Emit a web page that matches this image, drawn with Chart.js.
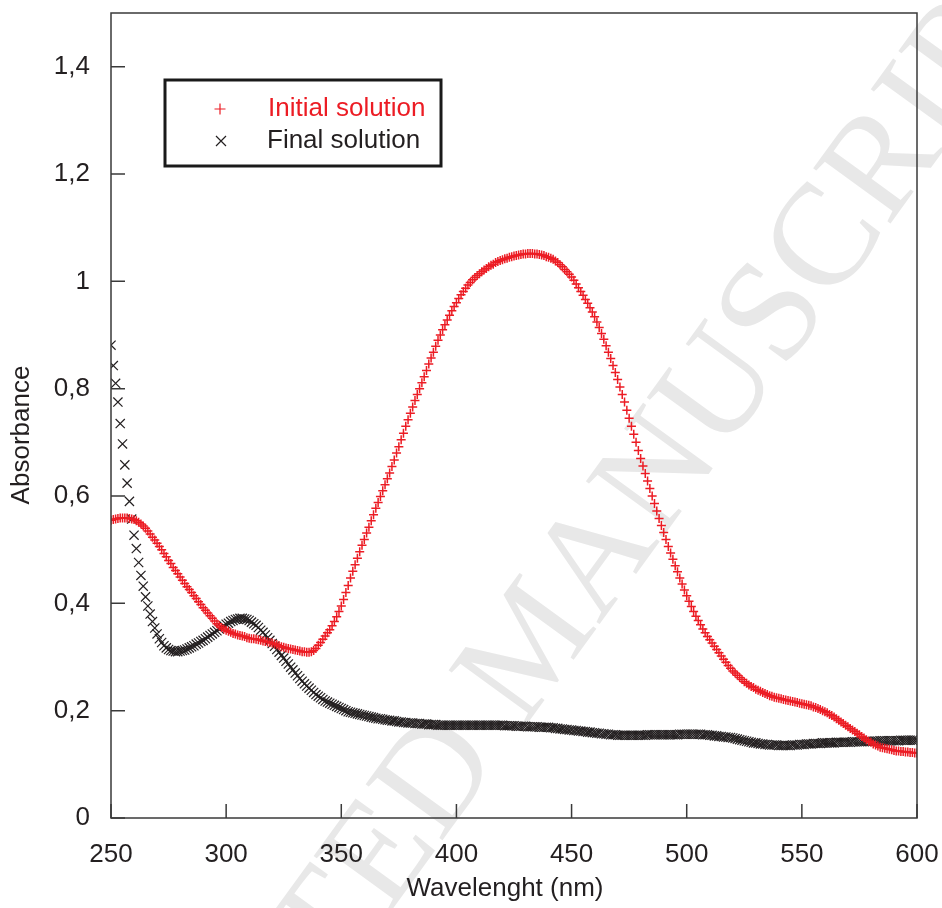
<!DOCTYPE html>
<html>
<head>
<meta charset="utf-8">
<script src="https://cdn.jsdelivr.net/npm/chart.js@4.4.1/dist/chart.umd.min.js"></script>
<style>
  body { margin: 0; background: #fff; }
  #wrap { width: 942px; height: 908px; }
</style>
</head>
<body>
<div id="wrap"><canvas id="spectra"></canvas></div>
<script>
// wavelength sampling, 1 nm from 250 to 600
const wlStart = 250, wlEnd = 600;
const wavelengths = [];
for (let w = wlStart; w <= wlEnd; w++) wavelengths.push(w);

// absorbance, one value per nm
const initialSolution = [
  0.555,0.556,0.557,0.558,0.559,0.559,0.559,0.559,0.558,0.557,
  0.556,0.554,0.551,0.548,0.544,0.540,0.535,0.529,0.523,0.518,
  0.512,0.506,0.500,0.493,0.487,0.480,0.474,0.467,0.461,0.455,
  0.449,0.443,0.437,0.431,0.426,0.420,0.414,0.409,0.403,0.398,
  0.392,0.387,0.382,0.377,0.372,0.367,0.362,0.358,0.355,0.352,
  0.350,0.348,0.346,0.344,0.343,0.341,0.340,0.339,0.338,0.336,
  0.335,0.334,0.334,0.333,0.332,0.331,0.330,0.329,0.328,0.327,
  0.326,0.324,0.323,0.321,0.319,0.318,0.317,0.316,0.315,0.314,
  0.313,0.312,0.311,0.310,0.310,0.309,0.309,0.310,0.312,0.316,
  0.322,0.327,0.333,0.339,0.345,0.351,0.358,0.366,0.375,0.385,
  0.395,0.407,0.420,0.433,0.447,0.460,0.472,0.484,0.496,0.508,
  0.519,0.531,0.542,0.554,0.565,0.577,0.588,0.599,0.610,0.621,
  0.632,0.643,0.655,0.667,0.680,0.692,0.705,0.717,0.730,0.742,
  0.754,0.766,0.778,0.789,0.800,0.811,0.822,0.834,0.846,0.857,
  0.868,0.879,0.890,0.900,0.910,0.919,0.928,0.937,0.945,0.953,
  0.960,0.968,0.975,0.981,0.987,0.993,0.998,1.003,1.007,1.011,
  1.014,1.018,1.021,1.024,1.027,1.030,1.032,1.035,1.037,1.039,
  1.040,1.042,1.043,1.045,1.046,1.047,1.048,1.049,1.050,1.051,
  1.051,1.052,1.052,1.052,1.051,1.051,1.050,1.049,1.048,1.046,
  1.045,1.043,1.041,1.038,1.035,1.031,1.027,1.022,1.018,1.013,
  1.008,1.002,0.995,0.988,0.981,0.974,0.966,0.959,0.951,0.943,
  0.934,0.924,0.914,0.903,0.892,0.880,0.868,0.856,0.843,0.830,
  0.817,0.803,0.789,0.775,0.760,0.745,0.730,0.715,0.700,0.685,
  0.670,0.656,0.642,0.628,0.614,0.600,0.586,0.572,0.558,0.545,
  0.532,0.519,0.506,0.494,0.482,0.470,0.459,0.447,0.436,0.425,
  0.414,0.404,0.394,0.385,0.376,0.368,0.360,0.352,0.345,0.338,
  0.332,0.326,0.320,0.314,0.308,0.302,0.296,0.290,0.284,0.279,
  0.274,0.270,0.266,0.262,0.258,0.254,0.251,0.248,0.245,0.243,
  0.240,0.238,0.236,0.234,0.232,0.230,0.228,0.227,0.225,0.224,
  0.223,0.222,0.221,0.220,0.219,0.218,0.217,0.216,0.215,0.214,
  0.213,0.212,0.211,0.210,0.209,0.207,0.206,0.204,0.202,0.200,
  0.198,0.196,0.193,0.191,0.188,0.185,0.182,0.179,0.176,0.173,
  0.170,0.167,0.164,0.161,0.158,0.155,0.152,0.149,0.146,0.143,
  0.141,0.138,0.136,0.134,0.132,0.131,0.130,0.129,0.128,0.127,
  0.126,0.125,0.125,0.124,0.124,0.123,0.123,0.122,0.122,0.121,
  0.121
];
const finalSolution = [
  0.881,0.843,0.810,0.775,0.735,0.697,0.658,0.624,0.590,0.557,
  0.527,0.502,0.476,0.452,0.432,0.412,0.395,0.380,0.366,0.354,
  0.343,0.334,0.327,0.321,0.317,0.314,0.312,0.311,0.310,0.310,
  0.311,0.312,0.313,0.315,0.317,0.319,0.321,0.324,0.326,0.329,
  0.331,0.334,0.337,0.340,0.343,0.346,0.349,0.352,0.355,0.358,
  0.361,0.363,0.366,0.368,0.370,0.371,0.372,0.372,0.371,0.370,
  0.368,0.365,0.362,0.359,0.355,0.350,0.346,0.341,0.336,0.331,
  0.325,0.320,0.314,0.309,0.303,0.298,0.292,0.287,0.281,0.276,
  0.270,0.265,0.260,0.255,0.250,0.246,0.242,0.238,0.234,0.230,
  0.227,0.224,0.221,0.218,0.216,0.214,0.212,0.210,0.208,0.206,
  0.204,0.202,0.200,0.198,0.197,0.196,0.195,0.194,0.193,0.192,
  0.191,0.190,0.189,0.188,0.187,0.186,0.185,0.185,0.184,0.183,
  0.182,0.182,0.181,0.181,0.180,0.179,0.179,0.178,0.178,0.177,
  0.177,0.177,0.176,0.176,0.176,0.175,0.175,0.175,0.174,0.174,
  0.174,0.174,0.173,0.173,0.173,0.173,0.173,0.173,0.173,0.173,
  0.173,0.173,0.173,0.173,0.173,0.173,0.173,0.173,0.173,0.173,
  0.173,0.173,0.173,0.173,0.173,0.173,0.173,0.173,0.173,0.173,
  0.173,0.172,0.172,0.172,0.172,0.172,0.171,0.171,0.171,0.171,
  0.171,0.170,0.170,0.170,0.170,0.170,0.169,0.169,0.169,0.169,
  0.169,0.168,0.168,0.167,0.167,0.166,0.166,0.165,0.165,0.164,
  0.164,0.163,0.163,0.162,0.162,0.161,0.161,0.160,0.160,0.159,
  0.159,0.158,0.158,0.157,0.157,0.156,0.156,0.155,0.155,0.155,
  0.154,0.154,0.154,0.154,0.154,0.154,0.154,0.154,0.154,0.154,
  0.154,0.154,0.154,0.155,0.155,0.155,0.155,0.155,0.155,0.155,
  0.155,0.155,0.155,0.155,0.155,0.155,0.155,0.156,0.156,0.156,
  0.156,0.156,0.156,0.156,0.156,0.156,0.156,0.155,0.155,0.155,
  0.154,0.154,0.153,0.153,0.152,0.152,0.151,0.151,0.150,0.150,
  0.149,0.148,0.147,0.146,0.145,0.144,0.143,0.142,0.141,0.140,
  0.140,0.139,0.138,0.138,0.137,0.137,0.136,0.136,0.136,0.136,
  0.135,0.135,0.135,0.135,0.135,0.135,0.136,0.136,0.136,0.137,
  0.137,0.137,0.138,0.138,0.138,0.139,0.139,0.139,0.139,0.140,
  0.140,0.140,0.140,0.140,0.140,0.141,0.141,0.141,0.141,0.141,
  0.141,0.141,0.142,0.142,0.142,0.142,0.142,0.142,0.143,0.143,
  0.143,0.143,0.143,0.143,0.144,0.144,0.144,0.144,0.144,0.144,
  0.144,0.144,0.144,0.145,0.145,0.145,0.145,0.145,0.145,0.145,
  0.145
];

const seriesNames = ['Initial solution', 'Final solution'];
const xTicks = [250, 300, 350, 400, 450, 500, 550, 600];
const yTicks = [0, 0.2, 0.4, 0.6, 0.8, 1, 1.2, 1.4];
const yTickLabels = ['0', '0,2', '0,4', '0,6', '0,8', '1', '1,2', '1,4'];
const xTitle = 'Wavelenght (nm)';
const yTitle = 'Absorbance';
const watermark = 'ACCEPTED MANUSCRIPT';

const RED = '#ec1c24';
const INK = '#231f20';
const FONT = "'Liberation Sans', Arial, sans-serif";

const toPoints = vals => vals.map((v, i) => ({ x: wavelengths[i], y: v }));

// grey diagonal watermark, drawn first so everything sits on top of it
const watermarkPlugin = {
  id: 'watermark',
  beforeDraw(chart) {
    const ctx = chart.ctx;
    ctx.save();
    ctx.font = "145px 'Liberation Serif', 'Times New Roman', serif";
    ctx.fillStyle = '#e8e8e8';
    ctx.textBaseline = 'middle';
    ctx.textAlign = 'left';
    const before = ctx.measureText('ACCEPTED ').width;
    const mW = ctx.measureText('M').width;
    ctx.translate(530, 655);
    ctx.rotate(-54 * Math.PI / 180);
    ctx.fillText(watermark, -(before + mW / 2), 0);
    ctx.restore();
  }
};

// frame, inward tick marks and axis titles
const framePlugin = {
  id: 'frame',
  afterDatasetsDraw(chart) {
    const { ctx, chartArea: a, scales } = chart;
    ctx.save();
    ctx.strokeStyle = '#3a3a3a';
    ctx.lineWidth = 1.5;
    ctx.strokeRect(a.left, a.top, a.right - a.left, a.bottom - a.top);
    ctx.beginPath();
    xTicks.forEach(v => {
      const px = scales.x.getPixelForValue(v);
      ctx.moveTo(px, a.bottom);
      ctx.lineTo(px, a.bottom - 14);
    });
    yTicks.forEach(v => {
      const py = scales.y.getPixelForValue(v);
      ctx.moveTo(a.left, py);
      ctx.lineTo(a.left + 14, py);
    });
    ctx.stroke();

    ctx.fillStyle = INK;
    ctx.font = '26px ' + FONT;
    ctx.textAlign = 'center';
    ctx.textBaseline = 'middle';
    ctx.fillText(xTitle, 505, 889);
    ctx.translate(22, 435);
    ctx.rotate(-Math.PI / 2);
    ctx.fillText(yTitle, 0, 0);
    ctx.restore();
  }
};

// boxed legend in the upper left
const legendPlugin = {
  id: 'boxLegend',
  afterDraw(chart) {
    const ctx = chart.ctx;
    ctx.save();
    ctx.fillStyle = '#fff';
    ctx.fillRect(165, 80, 276, 86);
    ctx.strokeStyle = '#1a1a1a';
    ctx.lineWidth = 3;
    ctx.strokeRect(165, 80, 276, 86);
    ctx.lineWidth = 1.2;
    ctx.strokeStyle = RED;
    ctx.beginPath();
    ctx.moveTo(214.5, 109); ctx.lineTo(225.5, 109);
    ctx.moveTo(220, 103.5); ctx.lineTo(220, 114.5);
    ctx.stroke();
    ctx.strokeStyle = INK;
    ctx.beginPath();
    ctx.moveTo(216, 136); ctx.lineTo(226, 146);
    ctx.moveTo(226, 136); ctx.lineTo(216, 146);
    ctx.stroke();
    ctx.font = '26px ' + FONT;
    ctx.textBaseline = 'middle';
    ctx.fillStyle = RED;
    ctx.fillText(seriesNames[0], 268, 109);
    ctx.fillStyle = INK;
    ctx.fillText(seriesNames[1], 267, 141);
    ctx.restore();
  }
};

new Chart(document.getElementById('spectra'), {
  type: 'scatter',
  data: {
    datasets: [
      {
        label: seriesNames[0],
        data: toPoints(initialSolution),
        pointStyle: 'cross',
        pointRadius: 4.5,
        borderColor: RED,
        backgroundColor: RED,
        borderWidth: 1.5,
      },
      {
        label: seriesNames[1],
        data: toPoints(finalSolution),
        pointStyle: 'crossRot',
        pointRadius: 6.5,
        borderColor: INK,
        backgroundColor: INK,
        borderWidth: 1.2,
      },
    ]
  },
  options: {
    responsive: true,
    maintainAspectRatio: false,
    animation: false,
    layout: { padding: { left: 0, top: 13, right: 25, bottom: 0 } },
    plugins: {
      legend: { display: false },
      tooltip: { enabled: false },
    },
    scales: {
      x: {
        type: 'linear',
        min: 250,
        max: 600,
        afterFit: s => { s.height = 90; s.paddingLeft = 0; s.paddingRight = 0; },
        afterBuildTicks: s => { s.ticks = xTicks.map(v => ({ value: v })); },
        grid: { display: false, drawTicks: false },
        border: { display: false },
        ticks: {
          color: INK,
          font: { family: FONT, size: 26 },
          padding: 21,
          maxRotation: 0,
        },
      },
      y: {
        min: 0,
        max: 1.5,
        afterFit: s => { s.width = 111; s.paddingTop = 0; s.paddingBottom = 0; },
        afterBuildTicks: s => { s.ticks = yTicks.map(v => ({ value: v })); },
        grid: { display: false, drawTicks: false },
        border: { display: false },
        ticks: {
          color: INK,
          font: { family: FONT, size: 26 },
          padding: 21,
          callback: (value, index) => yTickLabels[index],
        },
      }
    }
  },
  plugins: [watermarkPlugin, framePlugin, legendPlugin]
});
</script>
</body>
</html>
